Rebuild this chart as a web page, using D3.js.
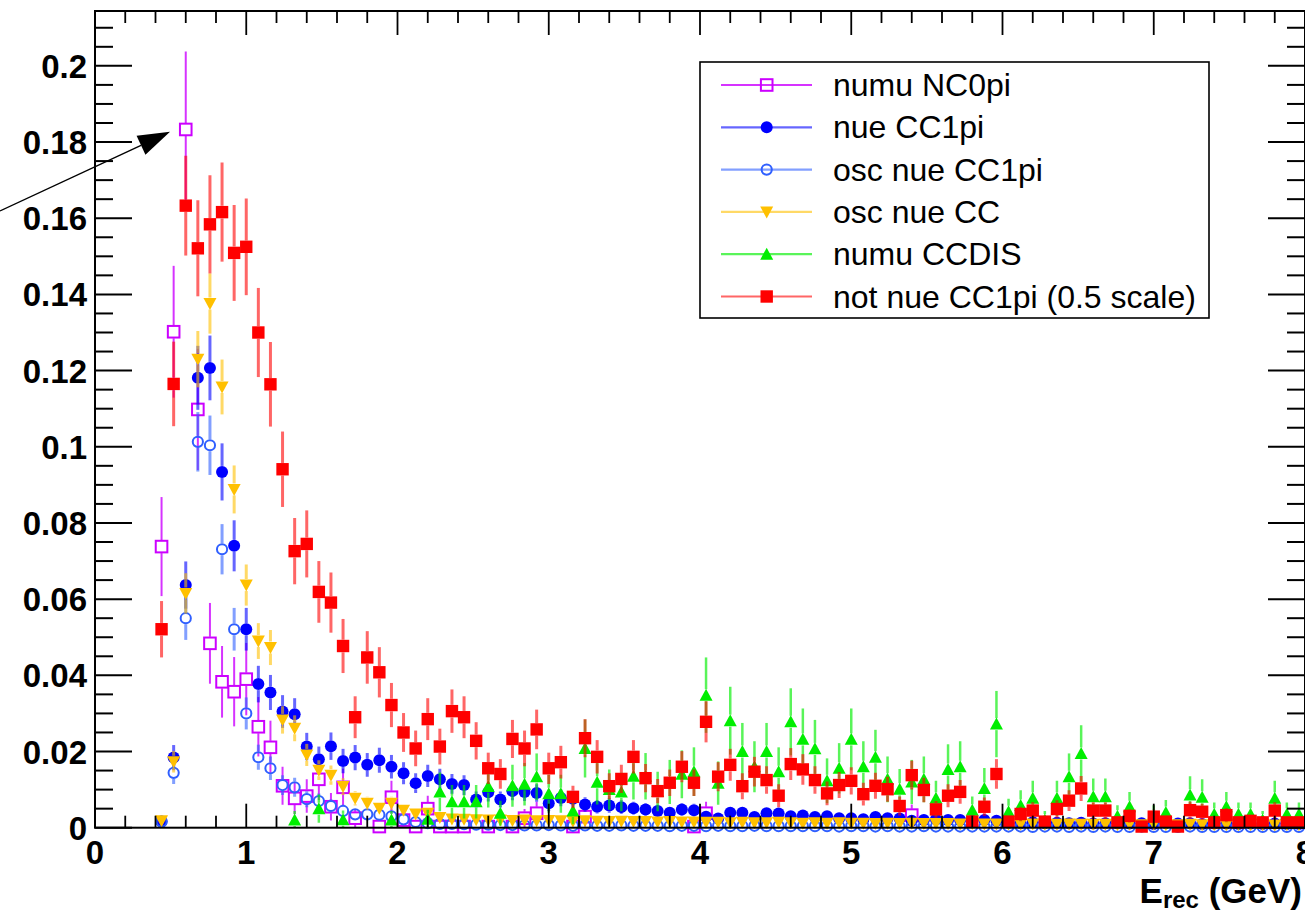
<!DOCTYPE html>
<html>
<head>
<meta charset="utf-8">
<script src="https://cdn.jsdelivr.net/npm/d3@7"></script>
<style>
  html, body { margin: 0; padding: 0; background: #fff; overflow: hidden; }
  svg { display: block; }
  text { font-family: "Liberation Sans", Arial, Helvetica, sans-serif; }
</style>
</head>
<body>
<svg id="chart" width="1305" height="912"></svg>
<script>
// Histogram binning: 100 bins of 0.08 GeV between 0 and 8 GeV
const xMin = 0, xMax = 8, nBins = 100;
const yMax = 0.2144;

// Axis ticks and labels
const xTickValues = [0, 1, 2, 3, 4, 5, 6, 7, 8];
const xTickLabels = ["0", "1", "2", "3", "4", "5", "6", "7", "8"];
const yTickValues = [0, 0.02, 0.04, 0.06, 0.08, 0.1, 0.12, 0.14, 0.16, 0.18, 0.2];
const yTickLabels = ["0", "0.02", "0.04", "0.06", "0.08", "0.1", "0.12", "0.14", "0.16", "0.18", "0.2"];

// Bin contents (null = empty bin) and their errors, bins 0..99
const numuNC0pi = [null,null,null,null,null,
  .0738,.1302,.1833,.1098,.0484,.0383,.0357,.0390,.0265,.0211,
  .0110,.0077,.0083,.0127,.0055,.0106,.0025,null,.0003,.0080,
  .0020,.0003,.0050,.0003,.0003,.0003,null,.0003,null,.0003,
  .0025,.0038,null,null,.0003,.0029,null,null,null,null,
  null,null,null,null,.0003,.0038,null,null,null,null,
  null,null,null,null,null,null,null,null,null,null,
  null,null,.0033,null,null,null,null,null,null,null,
  null,null,null,null,null,null,null,null,null,null,
  null,null,null,null,null,null,null,null,null,null,
  null,null,null,null,null];
const numuNC0piErr = [null,null,null,null,null,
  .0130,.0173,.0205,.0159,.0106,.0094,.0091,.0095,.0078,.0070,
  .0050,.0042,.0044,.0054,.0036,.0049,.0024,null,.0008,.0043,
  .0021,.0008,.0034,.0008,.0008,.0008,null,.0008,null,.0008,
  .0024,.0030,null,null,.0008,.0026,null,null,null,null,
  null,null,null,null,.0008,.0030,null,null,null,null,
  null,null,null,null,null,null,null,null,null,null,
  null,null,.0028,null,null,null,null,null,null,null,
  null,null,null,null,null,null,null,null,null,null,
  null,null,null,null,null,null,null,null,null,null,
  null,null,null,null,null];

const nueCC1pi = [null,null,null,null,null,
  .0016,.0184,.0637,.1181,.1207,.0934,.0740,.0521,.0377,.0355,
  .0305,.0298,.0213,.0180,.0214,.0175,.0184,.0165,.0177,.0160,
  .0143,.0117,.0136,.0127,.0115,.0112,.0074,.0093,.0074,.0096,
  .0094,.0091,.0064,.0078,.0076,.0061,.0055,.0058,.0054,.0051,
  .0048,.0044,.0039,.0048,.0046,.0029,.0024,.0039,.0039,.0028,
  .0038,.0037,.0030,.0032,.0028,.0030,.0025,.0025,.0022,.0028,
  .0025,.0024,.0018,.0020,.0022,.0020,.0020,.0018,.0020,.0018,
  .0013,.0012,.0014,.0012,.0013,.0012,.0013,.0011,.0012,.0012,
  .0011,.0012,.0010,.0012,.0011,.0012,.0010,.0011,.0011,.0010,
  .0011,.0010,.0011,.0010,.0010];
const nueCC1piErr = [null,null,null,null,null,
  .0010,.0033,.0062,.0084,.0085,.0075,.0067,.0056,.0048,.0046,
  .0043,.0042,.0036,.0033,.0036,.0032,.0033,.0031,.0033,.0031,
  .0029,.0026,.0029,.0028,.0026,.0026,.0021,.0024,.0021,.0024,
  .0024,.0023,.0020,.0022,.0021,.0019,.0018,.0019,.0018,.0017,
  .0017,.0016,.0015,.0017,.0017,.0013,.0012,.0015,.0015,.0013,
  .0015,.0015,.0013,.0014,.0013,.0013,.0012,.0012,.0011,.0013,
  .0012,.0012,.0010,.0011,.0011,.0011,.0011,.0010,.0011,.0010,
  .0009,.0008,.0009,.0008,.0009,.0008,.0009,.0008,.0008,.0008,
  .0008,.0008,.0008,.0008,.0008,.0008,.0008,.0008,.0008,.0008,
  .0008,.0008,.0008,.0008,.0008];

const oscNueCC1pi = [null,null,null,null,null,
  .0016,.0144,.0550,.1013,.1004,.0731,.0521,.0300,.0185,.0156,
  .0112,.0106,.0075,.0070,.0057,.0044,.0035,.0035,.0034,.0030,
  .0022,.0015,.0012,.0010,.0010,.0009,.0008,.0008,.0007,.0007,
  .0006,.0006,.0007,.0006,.0005,.0006,.0005,.0005,.0006,.0005,
  .0005,.0005,.0004,.0005,.0005,.0004,.0005,.0004,.0004,.0005,
  .0004,.0004,.0004,.0004,.0004,.0004,.0003,.0004,.0004,.0003,
  .0004,.0003,.0003,.0004,.0003,.0003,.0003,.0003,.0003,.0003,
  .0003,.0003,.0002,.0003,.0003,.0002,.0003,.0002,.0003,.0002,
  .0002,.0003,.0002,.0002,.0002,.0003,.0002,.0002,.0002,.0002,
  .0002,.0002,.0002,.0002,.0002];
const oscNueCC1piErr = [null,null,null,null,null,
  .0010,.0029,.0057,.0078,.0078,.0066,.0056,.0042,.0033,.0031,
  .0026,.0025,.0021,.0020,.0018,.0016,.0014,.0014,.0014,.0013,
  .0011,.0009,.0008,.0008,.0008,.0007,.0007,.0007,.0006,.0006,
  .0006,.0006,.0006,.0006,.0005,.0006,.0005,.0005,.0006,.0005,
  .0005,.0005,.0005,.0005,.0005,.0005,.0005,.0005,.0005,.0005,
  .0005,.0005,.0005,.0005,.0005,.0005,.0004,.0005,.0005,.0004,
  .0005,.0004,.0004,.0005,.0004,.0004,.0004,.0004,.0004,.0004,
  .0004,.0004,.0003,.0004,.0004,.0003,.0004,.0003,.0004,.0003,
  .0003,.0004,.0003,.0003,.0003,.0004,.0003,.0003,.0003,.0003,
  .0003,.0003,.0003,.0003,.0003];

const oscNueCC = [null,null,null,null,null,
  .0018,.0173,.0615,.1230,.1376,.1157,.0888,.0637,.0490,.0473,
  .0283,.0261,.0191,.0151,.0138,.0108,.0077,.0064,.0051,.0064,
  .0046,.0036,.0038,.0027,.0023,.0022,.0021,.0020,.0020,.0019,
  .0020,.0018,.0019,.0018,.0017,.0018,.0017,.0016,.0017,.0016,
  .0016,.0015,.0016,.0015,.0015,.0014,.0014,.0013,.0014,.0013,
  .0013,.0014,.0013,.0012,.0013,.0012,.0013,.0012,.0012,.0011,
  .0012,.0011,.0012,.0011,.0011,.0011,.0010,.0011,.0010,.0010,
  .0010,.0009,.0010,.0009,.0009,.0010,.0009,.0009,.0009,.0008,
  .0009,.0008,.0009,.0008,.0008,.0009,.0008,.0008,.0008,.0008,
  .0008,.0008,.0007,.0008,.0008];
const oscNueCCErr = [null,null,null,null,null,
  .0009,.0028,.0053,.0074,.0079,.0072,.0063,.0054,.0047,.0046,
  .0036,.0034,.0029,.0026,.0025,.0022,.0019,.0017,.0015,.0017,
  .0014,.0013,.0013,.0011,.0010,.0010,.0010,.0009,.0009,.0009,
  .0009,.0009,.0009,.0009,.0009,.0009,.0009,.0008,.0009,.0008,
  .0008,.0008,.0008,.0008,.0008,.0008,.0008,.0008,.0008,.0008,
  .0008,.0008,.0008,.0007,.0008,.0007,.0008,.0007,.0007,.0007,
  .0007,.0007,.0007,.0007,.0007,.0007,.0007,.0007,.0007,.0007,
  .0007,.0006,.0007,.0006,.0006,.0007,.0006,.0006,.0006,.0006,
  .0006,.0006,.0006,.0006,.0006,.0006,.0006,.0006,.0006,.0006,
  .0006,.0006,.0006,.0006,.0006];

const numuCCDIS = [null,null,null,null,null,
  null,null,null,null,null,null,null,null,null,null,
  null,.0020,null,.0050,null,.0021,null,null,null,.0020,
  null,null,.0022,.0094,.0068,.0068,.0068,.0108,.0038,.0110,
  .0114,.0134,.0089,.0089,.0044,.0208,.0119,.0100,.0094,.0135,
  .0135,.0095,.0120,.0140,.0147,.0348,.0117,.0281,.0200,.0160,
  .0200,.0147,.0278,.0232,.0207,.0123,.0156,.0232,.0160,.0185,
  .0127,.0101,.0120,.0127,.0077,.0153,.0160,.0046,.0103,.0272,
  .0042,.0058,.0077,.0020,.0077,.0134,.0195,.0081,.0081,.0030,
  .0055,null,.0030,.0040,null,.0086,.0080,.0035,.0055,.0035,
  .0035,.0020,.0077,.0035,.0035];
const numuCCDISErr = [null,null,null,null,null,
  null,null,null,null,null,null,null,null,null,null,
  null,.0024,null,.0037,null,.0024,null,null,null,.0024,
  null,null,.0025,.0051,.0044,.0044,.0044,.0055,.0033,.0055,
  .0056,.0061,.0050,.0050,.0035,.0076,.0058,.0053,.0051,.0061,
  .0061,.0052,.0058,.0063,.0064,.0099,.0057,.0089,.0075,.0067,
  .0075,.0064,.0088,.0081,.0076,.0059,.0066,.0081,.0067,.0072,
  .0060,.0053,.0058,.0060,.0046,.0066,.0067,.0036,.0054,.0087,
  .0034,.0040,.0046,.0024,.0046,.0061,.0074,.0048,.0048,.0029,
  .0039,null,.0029,.0033,null,.0049,.0047,.0031,.0039,.0031,
  .0031,.0024,.0046,.0031,.0031];

const notNueCC1pi = [null,null,null,null,null,
  .0521,.1165,.1633,.1521,.1584,.1616,.1509,.1525,.1300,.1164,
  .0941,.0726,.0745,.0619,.0591,.0477,.0290,.0447,.0408,.0322,
  .0250,.0208,.0285,.0213,.0306,.0290,.0228,.0156,.0141,.0233,
  .0208,.0258,.0156,.0172,.0081,.0235,.0186,.0109,.0128,.0186,
  .0130,.0096,.0118,.0160,.0118,.0278,.0134,.0165,.0109,.0147,
  .0125,.0084,.0167,.0153,.0125,.0090,.0112,.0123,.0088,.0110,
  .0101,.0057,.0138,.0099,.0048,.0084,.0094,.0016,.0055,.0141,
  .0016,.0036,.0045,.0016,.0049,.0071,.0103,.0045,.0045,.0014,
  .0031,.0003,.0029,.0016,.0003,.0046,.0042,.0014,.0033,.0014,
  .0018,.0014,.0045,.0014,.0014];
const notNueCC1piErr = [null,null,null,null,null,
  .0074,.0111,.0131,.0126,.0129,.0130,.0126,.0127,.0117,.0111,
  .0099,.0087,.0088,.0081,.0079,.0071,.0055,.0069,.0066,.0058,
  .0051,.0047,.0055,.0047,.0057,.0055,.0049,.0041,.0039,.0050,
  .0047,.0052,.0041,.0043,.0029,.0050,.0044,.0034,.0037,.0044,
  .0037,.0032,.0035,.0041,.0035,.0054,.0038,.0042,.0034,.0039,
  .0036,.0030,.0042,.0040,.0036,.0031,.0034,.0036,.0030,.0034,
  .0033,.0025,.0038,.0032,.0022,.0030,.0031,.0013,.0024,.0039,
  .0013,.0019,.0022,.0013,.0023,.0027,.0033,.0022,.0022,.0012,
  .0018,.0006,.0018,.0013,.0006,.0022,.0021,.0012,.0019,.0012,
  .0014,.0012,.0022,.0012,.0012];

// Annotation arrow (data coordinates): tail and tip
const arrowFrom = [-0.628, 0.1619];
const arrowTo = [0.496, 0.1827];

// Series styles, in drawing order
const series = [
  { label: "numu NC0pi", values: numuNC0pi, errors: numuNC0piErr, color: "#cc00ff", marker: "openSquare", bar: 2, barOpacity: 0.8 },
  { label: "nue CC1pi", values: nueCC1pi, errors: nueCC1piErr, color: "#0000ff", marker: "circle", bar: 3, barOpacity: 0.6 },
  { label: "osc nue CC1pi", values: oscNueCC1pi, errors: oscNueCC1piErr, color: "#2f5fff", marker: "openCircle", bar: 3, barOpacity: 0.6 },
  { label: "osc nue CC", values: oscNueCC, errors: oscNueCCErr, color: "#ffc000", marker: "triangleDown", bar: 3, barOpacity: 0.6 },
  { label: "numu CCDIS", values: numuCCDIS, errors: numuCCDISErr, color: "#00ee00", marker: "triangleUp", bar: 2.5, barOpacity: 0.65 },
  { label: "not nue CC1pi (0.5 scale)", values: notNueCC1pi, errors: notNueCC1piErr, color: "#ff0000", marker: "square", bar: 3, barOpacity: 0.6 }
];

const svg = d3.select("#chart");
const x = d3.scaleLinear().domain([xMin, xMax]).range([95, 1305]);
const y = d3.scaleLinear().domain([0, yMax]).range([827.7, 11]);
const binCenters = d3.range(nBins).map(i => xMin + (i + 0.5) * (xMax - xMin) / nBins);

svg.append("rect").attr("width", 1305).attr("height", 912).attr("fill", "#fff");

// Marker shapes (half-size used for the error-bar gap)
const markerHalf = { openSquare: 6.5, square: 6.3, circle: 6, openCircle: 6, triangleDown: 6, triangleUp: 6 };
function drawMarker(g, type, color, cx, cy) {
  switch (type) {
    case "square":
      g.append("rect").attr("x", cx - 6.2).attr("y", cy - 6.2).attr("width", 12.4).attr("height", 12.4).attr("fill", color);
      break;
    case "openSquare":
      g.append("rect").attr("x", cx - 5.8).attr("y", cy - 5.8).attr("width", 11.6).attr("height", 11.6)
        .attr("fill", "none").attr("stroke", color).attr("stroke-width", 2);
      break;
    case "circle":
      g.append("circle").attr("cx", cx).attr("cy", cy).attr("r", 6).attr("fill", color);
      break;
    case "openCircle":
      g.append("circle").attr("cx", cx).attr("cy", cy).attr("r", 5.1).attr("fill", "none")
        .attr("stroke", color).attr("stroke-width", 2);
      break;
    case "triangleDown":
      g.append("path").attr("d", `M${cx - 6.5},${cy - 5.5} L${cx + 6.5},${cy - 5.5} L${cx},${cy + 6.5} Z`).attr("fill", color);
      break;
    case "triangleUp":
      g.append("path").attr("d", `M${cx - 6.5},${cy + 5.5} L${cx + 6.5},${cy + 5.5} L${cx},${cy - 6.5} Z`).attr("fill", color);
      break;
  }
}

// Clip for error bars
svg.append("clipPath").attr("id", "frameClip")
  .append("rect").attr("x", 95).attr("y", 11).attr("width", 1210).attr("height", 816.7);

// Histograms: error bars then markers, one series after another
series.forEach(s => {
  const g = svg.append("g");
  const bars = g.append("g").attr("clip-path", "url(#frameClip)")
    .attr("stroke", s.color).attr("stroke-opacity", s.barOpacity).attr("stroke-width", s.bar);
  const pts = s.values.map((v, i) => v == null ? null : { bx: binCenters[i], v, e: s.errors[i] }).filter(d => d);
  const hs = markerHalf[s.marker];
  pts.forEach(d => {
    const px = x(d.bx), py = y(d.v);
    const top = y(d.v + d.e), bot = y(Math.max(d.v - d.e, 0));
    if (top < py - hs) bars.append("line").attr("x1", px).attr("x2", px).attr("y1", top).attr("y2", py - hs);
    if (bot > py + hs) bars.append("line").attr("x1", px).attr("x2", px).attr("y1", py + hs).attr("y2", bot);
  });
  pts.forEach(d => drawMarker(g, s.marker, s.color, x(d.bx), y(d.v)));
});

// Frame and ticks
const axes = svg.append("g").attr("stroke", "#000");
axes.append("rect").attr("x", 95).attr("y", 11).attr("width", 1210).attr("height", 816.7)
  .attr("fill", "none").attr("stroke-width", 2);

const xMinor = d3.range(0, 8.001, 0.2).filter(v => Math.abs(v - Math.round(v)) > 1e-6);
const yMinor = d3.range(0, yMax, 0.005).filter(v => Math.abs(v / 0.02 - Math.round(v / 0.02)) > 1e-6);

function tickX(v, len) {
  axes.append("line").attr("x1", x(v)).attr("x2", x(v)).attr("y1", y(0)).attr("y2", y(0) - len).attr("stroke-width", 1.8);
  axes.append("line").attr("x1", x(v)).attr("x2", x(v)).attr("y1", y(yMax)).attr("y2", y(yMax) + len).attr("stroke-width", 1.8);
}
function tickY(v, len) {
  axes.append("line").attr("x1", x(0)).attr("x2", x(0) + len).attr("y1", y(v)).attr("y2", y(v)).attr("stroke-width", 2);
  axes.append("line").attr("x1", x(8)).attr("x2", x(8) - len).attr("y1", y(v)).attr("y2", y(v)).attr("stroke-width", 2);
}
xTickValues.forEach(v => tickX(v, 24));
xMinor.forEach(v => tickX(v, 12));
yTickValues.forEach(v => tickY(v, 37));
yMinor.forEach(v => tickY(v, 18));

// Tick labels
const labels = svg.append("g").attr("font-weight", "bold").attr("font-size", 33).attr("fill", "#000");
xTickValues.forEach((v, i) => {
  labels.append("text").attr("x", x(v)).attr("y", 864).attr("text-anchor", "middle").text(xTickLabels[i]);
});
yTickValues.forEach((v, i) => {
  labels.append("text").attr("x", 87).attr("y", y(v) + 12).attr("text-anchor", "end").text(yTickLabels[i]);
});

// Axis title
const title = svg.append("text").attr("x", 1302).attr("y", 903).attr("text-anchor", "end")
  .attr("font-weight", "bold").attr("font-size", 35).attr("fill", "#000");
title.append("tspan").text("E");
title.append("tspan").attr("font-size", 24).attr("dy", 5).text("rec");
title.append("tspan").attr("dy", -5).text(" (GeV)");

// Legend
const legend = svg.append("g");
legend.append("rect").attr("x", 700).attr("y", 62).attr("width", 509).attr("height", 256)
  .attr("fill", "#fff").attr("stroke", "#000").attr("stroke-width", 1.6);
series.forEach((s, i) => {
  const cy = 85 + i * 42.3;
  legend.append("line").attr("x1", 721).attr("x2", 812).attr("y1", cy).attr("y2", cy)
    .attr("stroke", s.color).attr("stroke-opacity", s.barOpacity).attr("stroke-width", 2.2);
  drawMarker(legend, s.marker, s.color, 766.7, cy);
  legend.append("text").attr("x", 833).attr("y", cy + 11).attr("font-size", 32).attr("fill", "#000").text(s.label);
});

// Arrow pointing at the NC0pi peak
const ax0 = x(arrowFrom[0]), ay0 = y(arrowFrom[1]);
const ax1 = x(arrowTo[0]), ay1 = y(arrowTo[1]);
const len = Math.hypot(ax1 - ax0, ay1 - ay0);
const ux = (ax1 - ax0) / len, uy = (ay1 - ay0) / len;
const headLen = 32, headHalf = 10.5;
const bx = ax1 - ux * headLen, by = ay1 - uy * headLen;
svg.append("line").attr("x1", ax0).attr("y1", ay0).attr("x2", bx).attr("y2", by)
  .attr("stroke", "#000").attr("stroke-width", 1.4);
svg.append("path")
  .attr("d", `M${ax1},${ay1} L${bx - uy * headHalf},${by + ux * headHalf} L${bx + uy * headHalf},${by - ux * headHalf} Z`)
  .attr("fill", "#000");
</script>
</body>
</html>
